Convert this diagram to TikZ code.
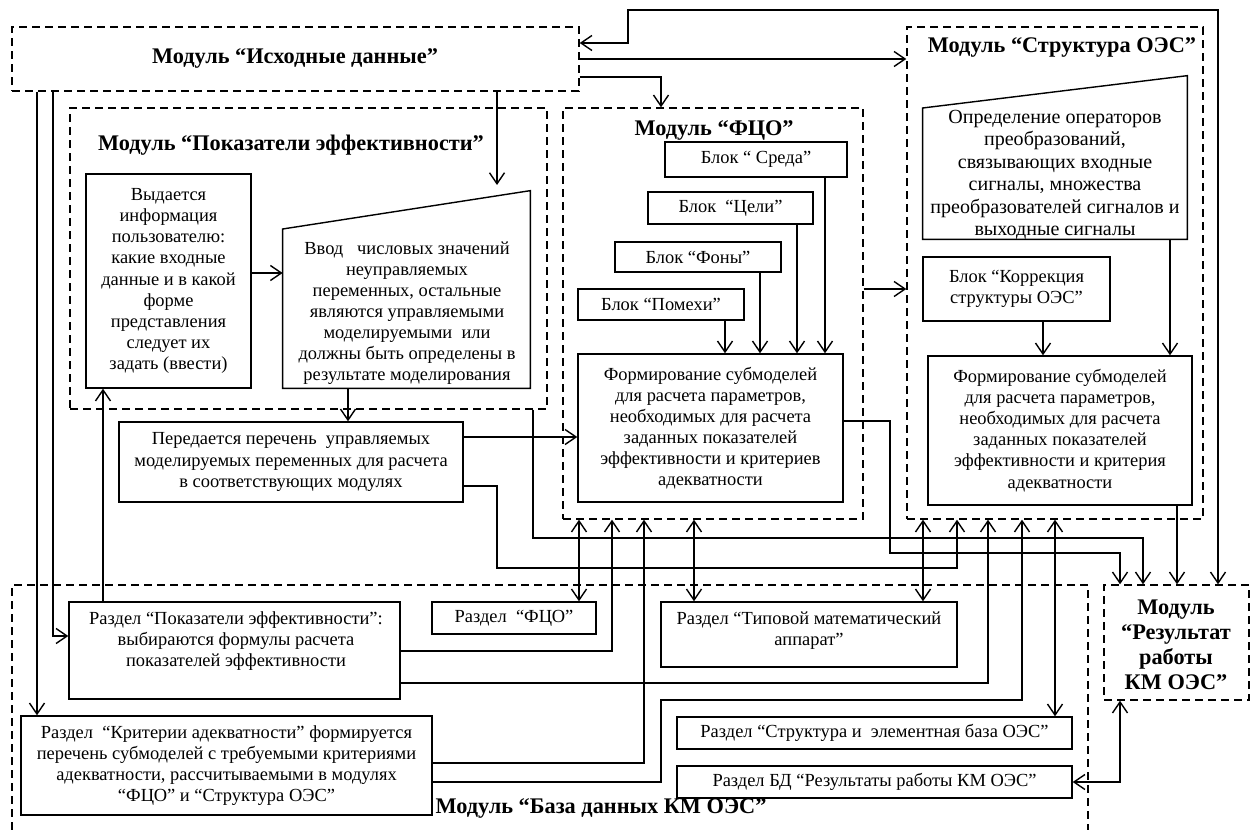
\documentclass[tikz,border=0pt]{standalone}
\usepackage{fontspec}
\setmainfont{Liberation Serif}
\usetikzlibrary{arrows.meta,fit,positioning}

\tikzset{
  box/.style={draw,line width=0.8pt,inner sep=0pt},
  modbox/.style={draw,line width=0.8pt,dash pattern=on 1.6mm off 1mm,inner sep=0pt},
  txt/.style={align=center,inner sep=0pt},
  modtitle/.style={font=\bfseries\fontsize{12.7}{14.5}\selectfont,align=center,inner sep=0pt},
  arr/.style={line width=0.8pt,-{Straight Barb[length=2.2mm,width=3mm]}},
  arrs/.style={line width=0.8pt,{Straight Barb[length=2.2mm,width=3mm]}-{Straight Barb[length=2.2mm,width=3mm]}},
  lin/.style={line width=0.8pt}
}

\begin{document}
\begin{tikzpicture}[x=0.2mm,y=-0.2mm,font=\fontsize{10.5}{12}\selectfont]
\useasboundingbox (0,0) rectangle (1255,830);
\clip (0,0) rectangle (1255,830);

% modules
\node[modbox,fit={(12,27) (579,91)}] (id) {};
\node[modtitle] (idt) at (295,58) {Модуль “Исходные данные”};
\node[modbox,fit={(70,108) (547,409)}] (pm) {};
\node[modtitle] (pmt) at (291,145) {Модуль “Показатели эффективности”};
\node[modbox,fit={(563,108) (863,519)}] (fco) {};
\node[modtitle] (fcot) at (714,130) {Модуль “ФЦО”};
\node[modbox,fit={(907,27) (1203,519)}] (struct) {};
\node[modtitle] (structt) at (1062,47) {Модуль “Структура ОЭС”};
\node[modbox,fit={(12,585) (1088,900)}] (bd) {};
\node[modtitle] (bdt) at (601,808) {Модуль “База данных КМ ОЭС”};
\node[modbox,fit={(1104,585) (1249,700)}] (result) {};
\node[modtitle,font=\bfseries\fontsize{12.7}{14.2}\selectfont] (resultt) at (1176,645) {Модуль\\“Результат\\работы\\КМ ОЭС”};

% Показатели эффективности
\node[box,fit={(86,174) (251,388)}] (vyd) {};
\node[txt] (vydt) at (vyd) {Выдается\\информация\\пользователю:\\какие входные\\данные и в какой\\форме\\представления\\следует их\\задать (ввести)};
\node[fit={(283,191) (530,388)},inner sep=0pt] (vvod) {};
\draw[lin] (vvod.south west) -- (vvod.west |- 0,229) -- (vvod.north east) -- (vvod.south east) -- cycle;
\node[txt] (vvodt) at (407,313) {Ввод \ \ числовых значений\\неуправляемых\\переменных, остальные\\являются управляемыми\\моделируемыми \ или\\должны быть определены в\\результате моделирования};
\node[box,fit={(119,422) (463,502)}] (per) {};
\node[txt] (pert) at (per) {Передается перечень \ управляемых\\моделируемых переменных для расчета\\в соответствующих модулях};

% ФЦО
\node[box,fit={(665,142) (847,177)}] (sreda) {};
\node[txt] (scedat) at (sreda) {Блок “ Среда”};
\node[box,fit={(648,192) (813,224)}] (celi) {};
\node[txt] (celit) at (celi) {Блок \ “Цели”};
\node[box,fit={(615,242) (781,272)}] (fony) {};
\node[txt] (fonyt) at (fony) {Блок “Фоны”};
\node[box,fit={(578,289) (744,320)}] (pomehi) {};
\node[txt] (pomehit) at (pomehi) {Блок “Помехи”};
\node[box,fit={(578,354) (843,502)}] (fform) {};
\node[txt] (fformt) at (fform) {Формирование субмоделей\\для расчета параметров,\\необходимых для расчета\\заданных показателей\\эффективности и критериев\\адекватности};

% Структура ОЭС
\node[fit={(923,76) (1187,239)},inner sep=0pt] (opr) {};
\draw[lin] (opr.south west) -- (opr.west |- 0,108) -- (opr.north east) -- (opr.south east) -- cycle;
\node[txt,font=\fontsize{11.4}{12.8}\selectfont] (oprt) at (1055,175) {Определение операторов\\преобразований,\\связывающих входные\\сигналы, множества\\преобразователей сигналов и\\выходные сигналы};
\node[box,fit={(923,257) (1110,321)}] (korr) {};
\node[txt] (korrt) at (korr) {Блок “Коррекция\\структуры ОЭС”};
\node[box,fit={(928,356) (1192,505)}] (sform) {};
\node[txt] (sformt) at (sform) {Формирование субмоделей\\для расчета параметров,\\необходимых для расчета\\заданных показателей\\эффективности и критерия\\адекватности};

% База данных
\node[box,fit={(69,602) (400,699)}] (rpe) {};
\node[txt] (rpet) at (236,641) {Раздел “Показатели эффективности”:\\выбираются формулы расчета\\показателей эффективности};
\node[box,fit={(432,602) (596,634)}] (rfco) {};
\node[txt] (rfcot) at (rfco) {Раздел \ “ФЦО”};
\node[box,fit={(661,602) (957,667)}] (tip) {};
\node[txt] (tipt) at (809,631) {Раздел “Типовой математический\\аппарат”};
\node[box,fit={(21,716) (432,815)}] (krit) {};
\node[txt] (kritt) at (krit) {Раздел \ “Критерии адекватности” формируется\\перечень субмоделей с требуемыми критериями\\адекватности, рассчитываемыми в модулях\\“ФЦО” и “Структура ОЭС”};
\node[box,fit={(677,717) (1072,749)}] (rstr) {};
\node[txt] (rstrt) at (rstr) {Раздел “Структура и \ элементная база ОЭС”};
\node[box,fit={(677,766) (1072,798)}] (rbd) {};
\node[txt] (rbdt) at (rbd) {Раздел БД “Результаты работы КМ ОЭС”};

% connectors from Исходные данные
\draw[arrs] (id.east |- 0,43) -- (628,43) |- (1218,10) -- (result.north -| 1218,0);
\draw[arr] (id.east |- 0,59) -- (struct.west |- 0,59);
\draw[arr] (id.east |- 0,77) -| (fco.north -| 661,0);
\draw[arr] (id.south -| 497,0) -- (497,185);
\draw[arr] (id.south -| 37,0) -- (krit.north -| 37,0);
\draw[arr] (id.south -| 53,0) |- (rpe.west |- 0,636);

% inside modules
\draw[arr] (vyd.east |- 0,273) -- (vvod.west |- 0,273);
\draw[arr] (vvod.south -| 348,0) -- (per.north -| 348,0);
\draw[arr] (rpe.north -| 103,0) -- (vyd.south -| 103,0);
\draw[arr] (per.east |- 0,437) -- (fform.west |- 0,437);
\draw[arr] (sreda.south -| 825,0) -- (fform.north -| 825,0);
\draw[arr] (celi.south -| 797,0) -- (fform.north -| 797,0);
\draw[arr] (fony.south -| 760,0) -- (fform.north -| 760,0);
\draw[arr] (pomehi.south -| 725,0) -- (fform.north -| 725,0);
\draw[arr] (opr.south -| 1170,0) -- (sform.north -| 1170,0);
\draw[arr] (korr.south -| 1043,0) -- (sform.north -| 1043,0);
\draw[arr] (fco.east |- 0,289) -- (struct.west |- 0,289);

% to Результат
\draw[arr] (pm.south -| 533,0) |- (1143,538) -- (result.north -| 1143,0);
\draw[arr] (fform.east |- 0,421) -| (890,553) -| (result.north -| 1120,0);
\draw[arr] (sform.south -| 1177,0) -- (result.north -| 1177,0);
\draw[arrs] (result.south -| 1120,0) |- (rbd.east);

% to ФЦО and Структура ОЭС
\draw[arr] (per.east |- 0,486) -- (497,486) |- (957,568) -- (struct.south -| 957,0);
\draw[arrs] (fco.south -| 579,0) -- (rfco.north -| 579,0);
\draw[arr] (rpe.east |- 0,651) -| (fco.south -| 612,0);
\draw[arr] (krit.east |- 0,763) -| (fco.south -| 644,0);
\draw[arrs] (fco.south -| 694,0) -- (tip.north -| 694,0);
\draw[arrs] (struct.south -| 923,0) -- (tip.north -| 923,0);
\draw[arr] (rpe.east |- 0,683) -| (struct.south -| 988,0);
\draw[arr] (krit.east |- 0,782) -- (661,782) |- (1022,700) -- (struct.south -| 1022,0);
\draw[arrs] (struct.south -| 1055,0) -- (rstr.north -| 1055,0);
\end{tikzpicture}
\end{document}
